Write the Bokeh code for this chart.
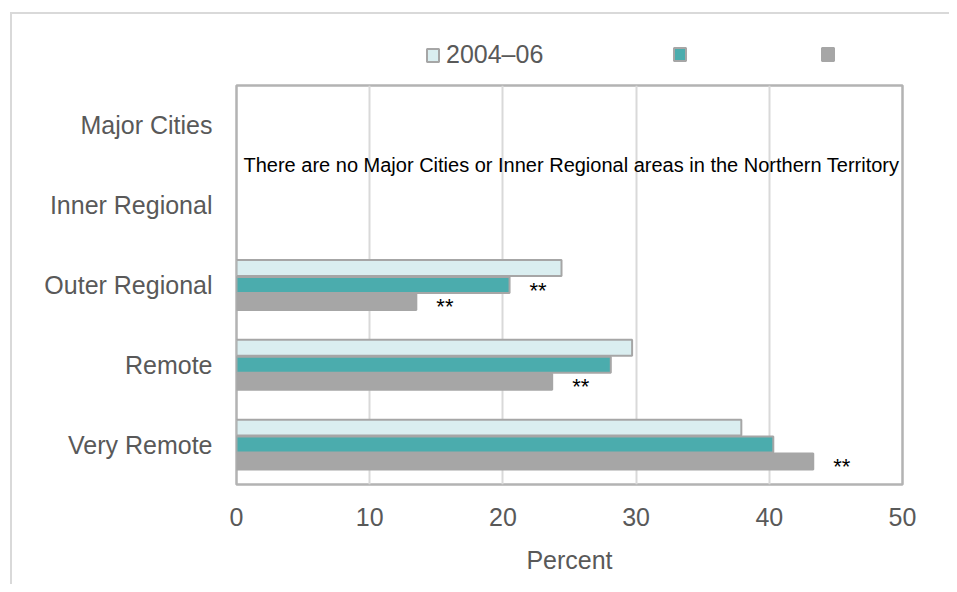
from bokeh.plotting import figure
from bokeh.layouts import column
from bokeh.models import (FactorRange, Range1d, Legend, LegendItem, Label,
                          ColumnDataSource, FixedTicker)
from bokeh.transform import dodge
from bokeh.core.properties import value
from bokeh.embed import file_html
from bokeh.resources import INLINE

# ---------------- data ----------------
categories = ["Major Cities", "Inner Regional", "Outer Regional", "Remote", "Very Remote"]
series_labels = ["2004–06", "", ""]
series_1 = [None, None, 24.4, 29.7, 37.9]   # 2004-06
series_2 = [None, None, 20.5, 28.1, 40.3]
series_3 = [None, None, 13.5, 23.7, 43.3]
signif_2 = [False, False, True, False, False]
signif_3 = [False, False, True, True, True]
x_ticks = [0, 10, 20, 30, 40, 50]
note_text = "There are no Major Cities or Inner Regional areas in the Northern Territory"

fills = ["#daeef0", "#4bacad", "#a6a6a6"]
lines = ["#a6a6a6", "#a6a6a6", "#a6a6a6"]
offsets = [0.2125, 0.0, -0.2125]
FONT = "Liberation Sans"
GREY_TXT = "#595959"
W = 937

# ---------------- legend strip ----------------
LEG_H = 60
leg = figure(width=W, height=LEG_H, x_range=Range1d(0, 1), y_range=Range1d(0, 1),
             output_backend="svg", toolbar_location=None, x_axis_type=None, y_axis_type=None,
             min_border_left=0, min_border_right=0, min_border_top=0, min_border_bottom=0)
leg.outline_line_color = None
leg.xgrid.visible = False
leg.ygrid.visible = False
leg.border_fill_color = "white"
leg_x = [189, 436, 584]   # offsets from the (aligned) plot-area left edge
leg_y = [5, 12, 12]       # unlabeled items are shorter, so lift them to the same centre
for lab, fc, lc, lx, ly in zip(series_labels, fills, lines, leg_x, leg_y):
    # legend-only proxy glyph, kept outside the strip's visible range
    proxy = leg.hbar(y=[-10], left=[0], right=[0], height=0.1,
                     fill_color=fc, line_color=lc, line_width=2)
    lg = Legend(items=[LegendItem(label=value(lab), renderers=[proxy])], location=(lx, ly),
                orientation="horizontal", padding=0, margin=0, spacing=0,
                border_line_color=None, background_fill_alpha=0,
                glyph_width=15, glyph_height=16, label_standoff=6, label_height=16, label_width=1,
                label_text_font=FONT, label_text_font_size="25px", label_text_color=GREY_TXT)
    leg.add_layout(lg, "center")

# ---------------- main chart ----------------
y_factors = list(reversed(categories))   # Major Cities on top
p = figure(width=W, height=510, y_range=FactorRange(factors=y_factors, range_padding=0),
           x_range=Range1d(0, 50), output_backend="svg", toolbar_location=None,
           min_border_left=224, min_border_right=47, min_border_top=11, min_border_bottom=100)
p.outline_line_color = "#b3b3b3"
p.outline_line_width = 2.5
p.background_fill_color = "white"
p.border_fill_color = "white"

p.xgrid.grid_line_color = "#d9d9d9"
p.xgrid.grid_line_width = 2
p.ygrid.grid_line_color = None

p.xaxis.ticker = FixedTicker(ticks=x_ticks)
p.xaxis.axis_label = "Percent"
for ax in (p.xaxis, p.yaxis):
    ax.axis_line_color = None
    ax.major_tick_line_color = None
    ax.minor_tick_line_color = None
    ax.major_label_text_font = FONT
    ax.major_label_text_font_size = "25px"
    ax.major_label_text_color = GREY_TXT
p.xaxis.major_label_standoff = 17
p.yaxis.major_label_standoff = 18
p.xaxis.axis_label_text_font = FONT
p.xaxis.axis_label_text_font_size = "25px"
p.xaxis.axis_label_text_font_style = "normal"
p.xaxis.axis_label_text_color = GREY_TXT
p.xaxis.axis_label_standoff = 17

for vals, fc, lc, off in zip([series_1, series_2, series_3], fills, lines, offsets):
    cats = [c for c, v in zip(categories, vals) if v is not None]
    vv = [v for v in vals if v is not None]
    src = ColumnDataSource(dict(cat=cats, v=vv))
    p.hbar(y=dodge("cat", off, range=p.y_range), left=0, right="v", height=0.2,
           source=src, fill_color=fc, line_color=lc, line_width=2)

# significance markers
for vals, flags, off in [(series_2, signif_2, offsets[1]), (series_3, signif_3, offsets[2])]:
    cats = [c for c, v, f in zip(categories, vals, flags) if v is not None and f]
    vv = [v for v, f in zip(vals, flags) if v is not None and f]
    src = ColumnDataSource(dict(cat=cats, v=vv, t=["**"] * len(cats)))
    p.text(x="v", y=dodge("cat", off, range=p.y_range), text="t", source=src,
           x_offset=20, y_offset=5, text_baseline="middle", text_align="left",
           text_font=value(FONT), text_font_size="22px", text_color="black")

# note for missing categories (between Major Cities and Inner Regional)
note_y = len(categories) - 1.0
p.add_layout(Label(x=0, y=note_y, x_offset=7, text=note_text, text_font=FONT,
                   text_font_size="20px", text_color="black", text_baseline="middle"))

layout = column(leg, p, spacing=0)
layout.styles = {"border-top": "2px solid #d9d9d9", "border-left": "2px solid #d9d9d9",
                 "margin-left": "10px", "margin-top": "12px"}

open("out.html", "w").write(file_html(layout, INLINE))
